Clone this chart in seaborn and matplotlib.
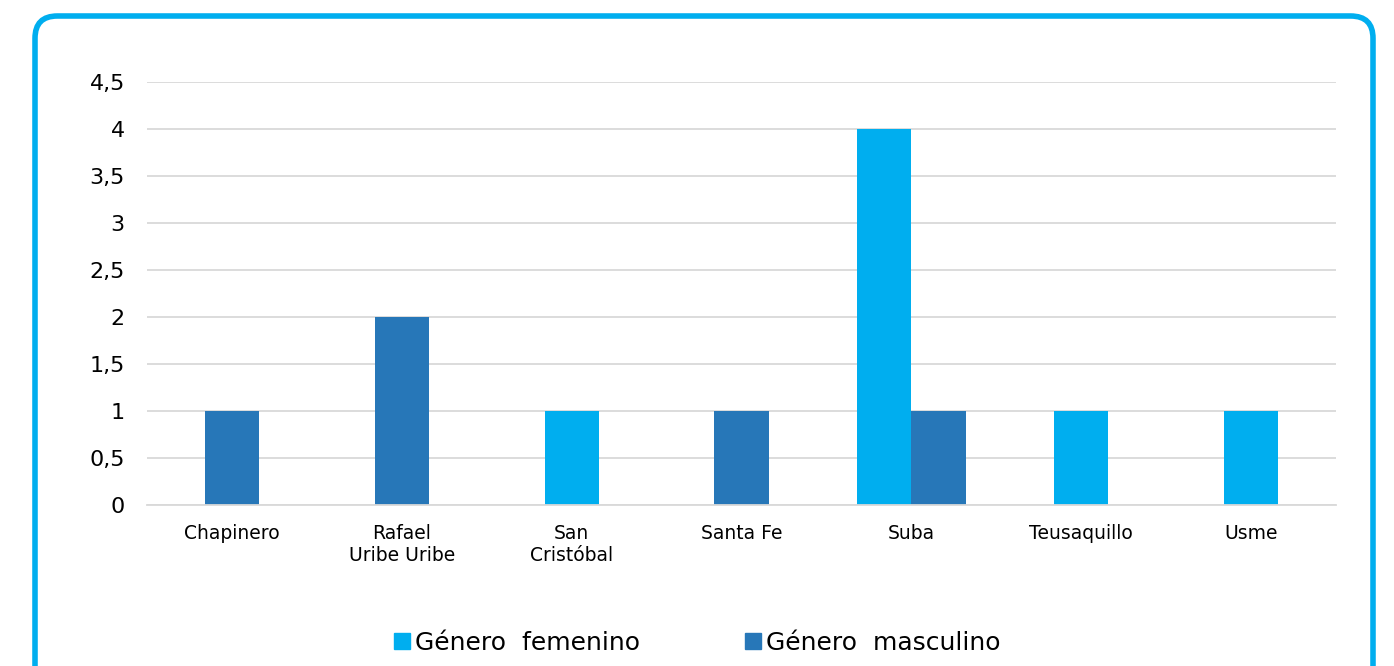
import pandas as pd
import seaborn as sns
import matplotlib.pyplot as plt
from matplotlib.patches import FancyBboxPatch, Patch

# Datos
distritos = ["Chapinero", "Rafael\nUribe Uribe", "San\nCristóbal", "Santa Fe",
             "Suba", "Teusaquillo", "Usme"]
femenino = [0, 0, 1, 0, 4, 1, 1]
masculino = [1, 2, 0, 1, 1, 0, 0]
series = ["Género  femenino", "Género  masculino"]
colores = {series[0]: "#00AEEF", series[1]: "#2777B8"}


def main():
    sns.set_theme(style="white")
    plt.rcParams['font.family'] = ['DejaVu Sans']
    plt.rcParams['text.color'] = "black"
    plt.rcParams['xtick.color'] = "black"
    plt.rcParams['ytick.color'] = "black"

    rows = []
    for d, f, m in zip(distritos, femenino, masculino):
        rows.append((d, series[0], f))
        rows.append((d, series[1], m))
    df = pd.DataFrame(rows, columns=["distrito", "serie", "valor"])
    df = df[df["valor"] > 0]
    # distritos con ambas series van agrupados, los demas centrados
    n = df.groupby("distrito")["serie"].transform("count")
    solos = df[n == 1]
    pares = df[n == 2]

    fig = plt.figure(figsize=(13.94, 6.66), dpi=100)
    ax = fig.add_axes([0.1055, 0.2417, 0.8529, 0.6352])

    sns.barplot(data=solos, x="distrito", y="valor", hue="serie",
                order=distritos, hue_order=series, palette=colores,
                dodge=False, width=0.32, saturation=1, linewidth=0,
                legend=False, ax=ax)
    sns.barplot(data=pares, x="distrito", y="valor", hue="serie",
                order=distritos, hue_order=series, palette=colores,
                dodge=True, width=0.64, saturation=1, linewidth=0,
                legend=False, ax=ax)

    ax.set_ylim(0, 4.5)
    ax.set_yticks([i * 0.5 for i in range(10)])
    ax.set_yticklabels([("%g" % (i * 0.5)).replace(".", ",") for i in range(10)],
                       fontsize=16)
    ax.tick_params(axis="x", labelsize=13.5, pad=8)
    ax.tick_params(axis="y", pad=10)
    ax.set_xlabel("")
    ax.set_ylabel("")
    ax.yaxis.grid(True, color="#D9D9D9", linewidth=1.3)
    ax.set_axisbelow(True)
    for s in ["left", "right", "top"]:
        ax.spines[s].set_visible(False)
    ax.spines["bottom"].set_color("#D9D9D9")
    ax.spines["bottom"].set_linewidth(1.3)

    handles = [Patch(color=colores[s]) for s in series]
    fig.legend(handles, series, loc="center", bbox_to_anchor=(0.5, 0.035),
               ncol=2, frameon=False, fontsize=18, handlelength=0.65,
               handleheight=0.65, handletextpad=0.2, columnspacing=4.2)

    borde = FancyBboxPatch((35 / 1394, -0.05), 1338 / 1394, 1.0 - 16 / 666 + 0.05,
                           boxstyle="round,pad=0,rounding_size=0.016",
                           transform=fig.transFigure, fill=False,
                           edgecolor="#00AEEF", linewidth=4,
                           mutation_aspect=1394 / 666)
    fig.patches.append(borde)

    fig.savefig("out.png", dpi=100)


if __name__ == '__main__':
    main()
